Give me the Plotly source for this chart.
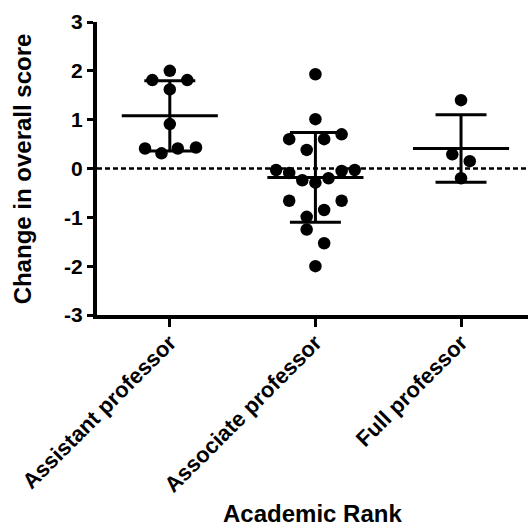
import numpy as np
import plotly.graph_objects as go

categories = ["Assistant professor", "Associate professor", "Full professor"]

assistant_values = [2.00, 1.81, 1.81, 1.62, 0.91, 0.41, 0.31, 0.41, 0.43]
assistant_jitter = [0.0, -0.12, 0.12, 0.0, 0.0, -0.17, -0.057, 0.055, 0.18]

associate_values = [1.93, 1.01, 0.60, 0.60, 0.70, 0.38, -0.03, -0.09, -0.05, -0.03,
                    -0.24, -0.29, -0.20, -0.66, -0.66, -0.85, -0.99, -1.25, -1.53, -2.00]
associate_jitter = [0.0, 0.0, -0.18, 0.06, 0.18, -0.06, -0.27, -0.18, 0.18, 0.27,
                    -0.09, 0.0, 0.09, -0.18, 0.18, 0.06, -0.06, -0.06, 0.06, 0.0]

full_values = [1.40, 0.29, 0.15, -0.20]
full_jitter = [0.0, -0.06, 0.06, 0.0]

groups = [
    (assistant_values, assistant_jitter),
    (associate_values, associate_jitter),
    (full_values, full_jitter),
]

y_ticks = [-3, -2, -1, 0, 1, 2, 3]
y_ticktext = ["<b>%d</b>" % v for v in y_ticks]

FONT = "Liberation Sans"
fig = go.Figure()

for i, (vals, jit) in enumerate(groups):
    vals = np.array(vals)
    xs = [i + j for j in jit]
    fig.add_trace(go.Scatter(
        x=xs, y=vals, mode="markers",
        marker=dict(size=12.5, color="black"),
        showlegend=False, hoverinfo="y"))
    m = vals.mean()
    sd = vals.std(ddof=1)
    fig.add_trace(go.Scatter(x=[i - 0.33, i + 0.33], y=[m, m], mode="lines",
                             line=dict(color="black", width=3), showlegend=False))
    fig.add_trace(go.Scatter(
        x=[i, i, None, i - 0.175, i + 0.175, None, i - 0.175, i + 0.175],
        y=[m - sd, m + sd, None, m + sd, m + sd, None, m - sd, m - sd],
        mode="lines", line=dict(color="black", width=3), showlegend=False))

fig.add_shape(type="line", xref="x", yref="y", x0=-0.5, x1=2.46, y0=0, y1=0,
              line=dict(color="black", width=2.5, dash="5px,3px"), layer="below")

fig.update_layout(
    width=528, height=529,
    margin=dict(l=97, r=0, t=22, b=214),
    paper_bgcolor="white", plot_bgcolor="white",
    font=dict(family=FONT, color="black"),
    xaxis=dict(
        range=[-0.5, 2.46], tickvals=[0, 1, 2],
        ticktext=["<b>%s</b>" % c for c in categories],
        tickangle=-45, showline=True, linewidth=4, linecolor="black",
        ticks="outside", ticklen=8, tickwidth=3, tickcolor="black",
        ticklabelstandoff=-6,
        showgrid=False, zeroline=False, automargin=False,
        tickfont=dict(family=FONT, size=22, color="black"),
    ),
    yaxis=dict(
        range=[-3, 3], tickvals=y_ticks, ticktext=y_ticktext, showline=True,
        linewidth=4, linecolor="black", ticks="outside", ticklen=6, tickwidth=3,
        tickcolor="black", showgrid=False, zeroline=False, automargin=False,
        tickfont=dict(family=FONT, size=21, color="black"),
    ),
    annotations=[
        dict(text="<b>Academic Rank</b>", xref="paper", yref="paper", x=0.5, y=-0.676,
             xanchor="center", yanchor="middle", showarrow=False,
             font=dict(family=FONT, size=24, color="black")),
        dict(text="<b>Change in overall score</b>", xref="paper", yref="paper",
             x=-0.172, y=0.5, textangle=-90, xanchor="center", yanchor="middle",
             showarrow=False,
             font=dict(family=FONT, size=24, color="black")),
    ],
)

fig.write_html("out.html", config={"displayModeBar": False},
               post_script="document.body.style.margin='0px';")
